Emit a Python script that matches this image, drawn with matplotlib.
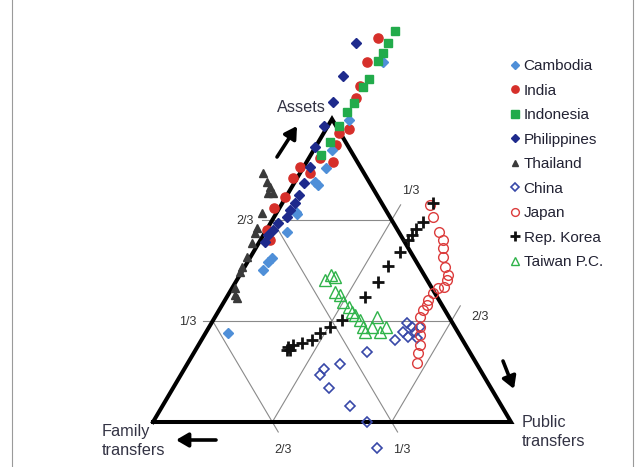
import numpy as np
import matplotlib
matplotlib.use('Agg')
import matplotlib.pyplot as plt
from matplotlib.lines import Line2D

plt.rcParams['font.family'] = ['Liberation Sans', 'DejaVu Sans']

# ---- data: shares of Assets and Public transfers (Family = 1 - Assets - Public)
cambodia_assets = [1.189, 0.997, 0.898, 0.837, 0.793, 0.782, 0.694, 0.686, 0.628, 0.540, 0.529, 0.502, 0.293]
cambodia_public = [0.048, 0.048, 0.050, 0.066, 0.056, 0.070, 0.052, 0.058, 0.059, 0.062, 0.057, 0.057, 0.064]

india_assets = [1.266, 1.189, 1.109, 1.068, 0.966, 0.953, 0.914, 0.859, 0.870, 0.821, 0.843, 0.804, 0.744, 0.705, 0.634, 0.601]
india_public = [-0.005, 0.002, 0.024, 0.033, 0.065, 0.043, 0.054, 0.072, 0.031, 0.029, -0.010, -0.010, -0.003, -0.015, 0.001, 0.027]

indonesia_assets = [1.291, 1.252, 1.217, 1.191, 1.132, 1.107, 1.054, 1.024, 0.977, 0.925, 0.881]
indonesia_public = [0.030, 0.030, 0.033, 0.032, 0.037, 0.034, 0.034, 0.031, 0.030, 0.031, 0.030]

philippines_assets = [1.250, 1.142, 1.057, 0.977, 0.907, 0.843, 0.790, 0.749, 0.722, 0.700, 0.678, 0.656, 0.634, 0.617, 0.595]
philippines_public = [-0.059, -0.041, -0.027, -0.012, 0.000, 0.016, 0.027, 0.034, 0.036, 0.033, 0.034, 0.022, 0.019, 0.013, 0.015]

thailand_assets = [0.823, 0.793, 0.777, 0.755, 0.756, 0.689, 0.639, 0.623, 0.590, 0.546, 0.513, 0.496, 0.441, 0.419, 0.408]
thailand_public = [-0.103, -0.079, -0.061, -0.055, -0.043, -0.040, -0.030, -0.026, -0.019, -0.011, -0.008, -0.005, 0.008, 0.019, 0.030]

china_assets = [0.271, 0.326, 0.315, 0.298, 0.298, 0.282, 0.276, 0.315, 0.230, 0.191, 0.175, 0.155, 0.111, 0.053, -0.001, -0.087]
china_public = [0.541, 0.546, 0.566, 0.550, 0.583, 0.572, 0.599, 0.589, 0.484, 0.426, 0.389, 0.388, 0.436, 0.524, 0.599, 0.668]

japan_assets = [0.716, 0.678, 0.628, 0.601, 0.573, 0.546, 0.513, 0.485, 0.469, 0.447, 0.441, 0.425, 0.403, 0.386, 0.370, 0.348, 0.315, 0.287, 0.254, 0.227, 0.194]
japan_public = [0.416, 0.442, 0.486, 0.509, 0.524, 0.538, 0.560, 0.582, 0.586, 0.588, 0.576, 0.571, 0.568, 0.572, 0.570, 0.572, 0.587, 0.602, 0.619, 0.628, 0.640]

korea_assets = [0.722, 0.661, 0.636, 0.617, 0.601, 0.562, 0.515, 0.463, 0.414, 0.337, 0.315, 0.293, 0.271, 0.260, 0.254, 0.249, 0.238, 0.238]
korea_public = [0.420, 0.424, 0.417, 0.414, 0.413, 0.409, 0.400, 0.397, 0.385, 0.359, 0.337, 0.320, 0.308, 0.285, 0.265, 0.253, 0.254, 0.264]

taiwan_assets = [0.469, 0.485, 0.479, 0.430, 0.419, 0.397, 0.381, 0.364, 0.353, 0.337, 0.315, 0.298, 0.315, 0.348, 0.298, 0.315]
taiwan_public = [0.246, 0.256, 0.269, 0.293, 0.312, 0.333, 0.356, 0.373, 0.387, 0.410, 0.430, 0.443, 0.454, 0.451, 0.485, 0.494]

grid_values = [1/3, 2/3]

# ---- figure
W, H = 641, 467
fig = plt.figure(figsize=(W / 100, H / 100), dpi=100)
ax = fig.add_axes([0, 0, 1, 1])
ax.set_xlim(-153 / 358, (W - 153) / 358)
ax.set_ylim((422 - H) / 303, 422 / 303)
ax.axis('off')


def proj(a, p):
    a = np.asarray(a, dtype=float)
    p = np.asarray(p, dtype=float)
    return p + a / 2, a


def fp(x, y):
    """figure pixel (from top-left) -> figure fraction"""
    return x / W, 1 - y / H


# frame lines of the original page
fig.add_artist(Line2D([fp(12, 0)[0]] * 2, [0, 1], color='#9a9a9a', lw=0.8))
fig.add_artist(Line2D([fp(633, 0)[0]] * 2, [0, 1], color='#9a9a9a', lw=0.8))

gcol = '#8a8a8a'
glw = 0.8
ext_l, ext_b, ext_r = 0.028, 0.033, 0.05
for v in grid_values:
    # constant assets = v (horizontal), extended past the left edge
    x, y = proj([v, v], [-ext_l, 1 - v])
    ax.plot(x, y, color=gcol, lw=glw, zorder=1)
    # constant family = v (parallel to right edge), extended below the base
    x, y = proj([-ext_b, 1 - v], [1 - v + ext_b, 0])
    ax.plot(x, y, color=gcol, lw=glw, zorder=1)
    # constant public = v (parallel to left edge), extended past the right edge
    x, y = proj([0, 1 - v + ext_r], [v, v])
    ax.plot(x, y, color=gcol, lw=glw, zorder=1)

# triangle
x, y = proj([0, 0, 1, 0], [0, 1, 0, 0])
ax.plot(x, y, color='black', lw=2.9, solid_joinstyle='miter', zorder=2)

# grid labels
lab_kw = dict(fontsize=9, color='#333333', ha='center', va='center')
for (px_, py_), s in [((245, 221), '2/3'), ((188, 322), '1/3'),
                      ((283, 450), '2/3'), ((402, 450), '1/3'),
                      ((411, 191), '1/3'), ((480, 317), '2/3')]:
    fig.text(*fp(px_, py_), s, **lab_kw)

# series
series = [
    ('Cambodia', cambodia_assets, cambodia_public, dict(marker='D', ms=5.2, color='#4f8fd8', mec='#4f8fd8', ls='none'), 4),
    ('India', india_assets, india_public, dict(marker='o', ms=6.6, color='#d62f2a', mec='#d62f2a', ls='none'), 3),
    ('Indonesia', indonesia_assets, indonesia_public, dict(marker='s', ms=6.4, color='#22ab4b', mec='#22ab4b', ls='none'), 5),
    ('Philippines', philippines_assets, philippines_public, dict(marker='D', ms=5.2, color='#1e2a8c', mec='#1e2a8c', ls='none'), 6),
    ('Thailand', thailand_assets, thailand_public, dict(marker='^', ms=5.8, color='#3a3a3a', mec='#3a3a3a', ls='none'), 6),
    ('China', china_assets, china_public, dict(marker='D', ms=5.0, mfc='none', mec='#3848a8', mew=1.2, ls='none'), 6),
    ('Japan', japan_assets, japan_public, dict(marker='o', ms=7.0, mfc='none', mec='#dc3c3c', mew=1.0, ls='none'), 6),
    ('Rep. Korea', korea_assets, korea_public, dict(marker='+', ms=8.5, color='#111111', mew=2.0, ls='none'), 7),
    ('Taiwan P.C.', taiwan_assets, taiwan_public, dict(marker='^', ms=8.0, mfc='none', mec='#2fb34a', mew=1.0, ls='none'), 6),
]
handles = []
for name, a, p, kw, z in series:
    x, y = proj(a, p)
    h, = ax.plot(x, y, label=name, zorder=z, **kw)
    handles.append(h)

leg = fig.legend(handles=handles, labels=[s[0] for s in series],
                 loc='upper left', bbox_to_anchor=fp(510, 59), frameon=False,
                 fontsize=11, handlelength=0.7, handletextpad=0.2,
                 labelspacing=0.69, markerscale=0.8, borderpad=0, borderaxespad=0)
for t in leg.get_texts():
    t.set_color('#222233')

# axis titles
txt_kw = dict(fontsize=11.7, color='#333344')
fig.text(*fp(301, 108), 'Assets', ha='center', va='center', **txt_kw)
fig.text(*fp(102, 441), 'Family\ntransfers', ha='left', va='center', linespacing=1.35, **txt_kw)
fig.text(*fp(522, 432), 'Public\ntransfers', ha='left', va='center', linespacing=1.35, **txt_kw)

# arrows
arr = dict(arrowstyle='-|>,head_length=0.6,head_width=0.35', color='black', lw=2.6,
           shrinkA=0, shrinkB=0, mutation_scale=12)
for (x0, y0), (x1, y1) in [((277, 157), (297, 126)),
                           ((216, 440), (176, 440)),
                           ((503, 361), (514, 389))]:
    ax.annotate('', xy=(x1, H - y1), xytext=(x0, H - y0),
                xycoords='figure pixels', textcoords='figure pixels', arrowprops=arr)

fig.savefig('out.png', dpi=100)
